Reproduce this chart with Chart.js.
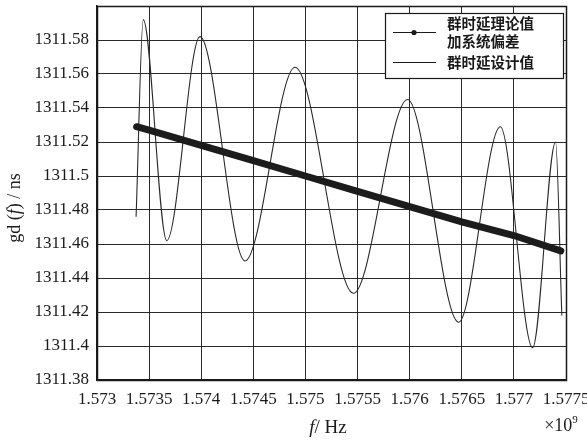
<!DOCTYPE html>
<html>
<head>
<meta charset="utf-8">
<script src="https://cdn.jsdelivr.net/npm/chart.js@4"></script>
<style>
  html, body { margin: 0; padding: 0; background: #fff; }
  #wrap { width: 587px; height: 440px; position: relative; }
</style>
</head>
<body>
<div id="wrap"><canvas id="c" width="587" height="440"></canvas></div>
<script>
// Frequency axis in units of 1e9 Hz
const xTicks = [1.573, 1.5735, 1.574, 1.5745, 1.575, 1.5755, 1.576, 1.5765, 1.577, 1.5775];
const yTicks = [1311.38, 1311.4, 1311.42, 1311.44, 1311.46, 1311.48, 1311.5, 1311.52, 1311.54, 1311.56, 1311.58, 1311.6];

// Theoretical group delay plus systematic offset
const freqTheory = [1.57338, 1.5735, 1.574, 1.5745, 1.575, 1.5755, 1.576, 1.5765, 1.577, 1.57745];
const gdTheory   = [1311.529, 1311.527, 1311.518, 1311.509, 1311.500, 1311.491, 1311.482, 1311.473, 1311.465, 1311.456];

// Designed group delay (ripple), sampled at start/end and turning points
const freqDesign = [1.573375, 1.573444, 1.573669, 1.573988, 1.574420, 1.574900, 1.575460, 1.575980, 1.576470, 1.576870, 1.577180, 1.577400, 1.577460];
const gdDesign   = [1311.476, 1311.592, 1311.462, 1311.582, 1311.450, 1311.564, 1311.431, 1311.545, 1311.414, 1311.529, 1311.399, 1311.520, 1311.418];

const legendNames = [['群时延理论值', '加系统偏差'], ['群时延设计值']];

const toXY = (xs, ys) => xs.map((x, i) => ({ x, y: ys[i] }));
const serif = "'Liberation Serif', 'Times New Roman', serif";

function drawRuns(ctx, runs, cx, cy) {
  // runs: [text, italic, size, dy]
  let total = 0;
  runs.forEach(r => {
    ctx.font = (r[1] ? 'italic ' : '') + r[2] + 'px ' + serif;
    total += ctx.measureText(r[0]).width;
  });
  let x = cx - total / 2;
  runs.forEach(r => {
    ctx.font = (r[1] ? 'italic ' : '') + r[2] + 'px ' + serif;
    ctx.fillText(r[0], x, cy + (r[3] || 0));
    x += ctx.measureText(r[0]).width;
  });
}

const decorations = {
  id: 'decorations',
  afterDraw(chart) {
    const ctx = chart.ctx;
    const a = chart.chartArea;
    ctx.save();

    // plot frame
    ctx.strokeStyle = '#1a1a1a';
    ctx.lineWidth = 1.5;
    ctx.strokeRect(Math.round(a.left) + 0.5, Math.round(a.top) + 0.5,
                   Math.round(a.right - a.left), Math.round(a.bottom - a.top));

    ctx.fillStyle = '#1a1a1a';
    ctx.textBaseline = 'middle';
    ctx.textAlign = 'left';

    // y axis title
    ctx.save();
    ctx.translate(15, 208);
    ctx.rotate(-Math.PI / 2);
    drawRuns(ctx, [['gd (', false, 18], ['f', true, 18], [') / ns', false, 18]], 0, 0);
    ctx.restore();

    // x axis title and multiplier
    drawRuns(ctx, [['f', true, 19], ['/ Hz', false, 19]], 328, 428);
    drawRuns(ctx, [['×10', false, 18], ['9', false, 11, -6]], 561, 426);

    // legend
    const bx = 385, by = 13, bw = 178, bh = 65;
    ctx.fillStyle = '#fff';
    ctx.fillRect(bx, by, bw, bh);
    ctx.strokeStyle = '#1a1a1a';
    ctx.lineWidth = 1.2;
    ctx.strokeRect(bx + 0.5, by + 0.5, bw, bh);

    ctx.lineWidth = 1.2;
    ctx.beginPath();
    ctx.moveTo(393, 32.5); ctx.lineTo(436, 32.5);
    ctx.moveTo(393, 62.5); ctx.lineTo(436, 62.5);
    ctx.stroke();
    ctx.fillStyle = '#1a1a1a';
    ctx.beginPath();
    ctx.arc(414, 32.5, 2.6, 0, Math.PI * 2);
    ctx.fill();

    ctx.font = "bold 14.5px 'Noto Sans CJK SC', sans-serif";
    ctx.fillText(legendNames[0][0], 447, 23);
    ctx.fillText(legendNames[0][1], 447, 41);
    ctx.fillText(legendNames[1][0], 447, 62);
    ctx.restore();
  }
};

const fmt = v => parseFloat(Number(v).toFixed(4)).toString();

new Chart(document.getElementById('c'), {
  type: 'line',
  data: {
    datasets: [
      {
        label: legendNames[0].join(''),
        data: toXY(freqTheory, gdTheory),
        borderColor: '#1c1c1c',
        borderWidth: 7,
        pointRadius: 0,
        borderCapStyle: 'round',
        tension: 0,
        order: 0
      },
      {
        label: legendNames[1][0],
        data: toXY(freqDesign, gdDesign),
        borderColor: '#2a2a2a',
        borderWidth: 1.1,
        pointRadius: 0,
        cubicInterpolationMode: 'monotone',
        order: 1
      }
    ]
  },
  options: {
    responsive: false,
    animation: false,
    devicePixelRatio: 1,
    layout: { padding: { left: 0, right: 21, top: 6, bottom: 0 } },
    plugins: { legend: { display: false }, tooltip: { enabled: false } },
    scales: {
      x: {
        type: 'linear',
        min: xTicks[0],
        max: xTicks[xTicks.length - 1],
        afterBuildTicks: s => { s.ticks = xTicks.map(v => ({ value: v })); },
        afterFit: s => { s.height = 60; s.paddingLeft = 0; s.paddingRight = 0; },
        grid: { color: '#2a2a2a', lineWidth: 1, drawTicks: false },
        border: { display: true, color: '#1a1a1a', width: 1.5 },
        ticks: {
          padding: 9,
          maxRotation: 0,
          autoSkip: false,
          color: '#1a1a1a',
          font: { family: serif, size: 17 },
          callback: v => fmt(v)
        }
      },
      y: {
        type: 'linear',
        min: yTicks[0],
        max: yTicks[yTicks.length - 1],
        afterBuildTicks: s => { s.ticks = yTicks.map(v => ({ value: v })); },
        afterFit: s => { s.width = 97; s.paddingTop = 0; s.paddingBottom = 0; },
        grid: { color: '#2a2a2a', lineWidth: 1, drawTicks: false },
        border: { display: true, color: '#1a1a1a', width: 1.5 },
        ticks: {
          padding: 8,
          autoSkip: false,
          color: '#1a1a1a',
          font: { family: serif, size: 17 },
          callback: v => (Math.abs(v - 1311.6) < 1e-6 ? '' : fmt(v))
        }
      }
    }
  },
  plugins: [decorations]
});
</script>
</body>
</html>
